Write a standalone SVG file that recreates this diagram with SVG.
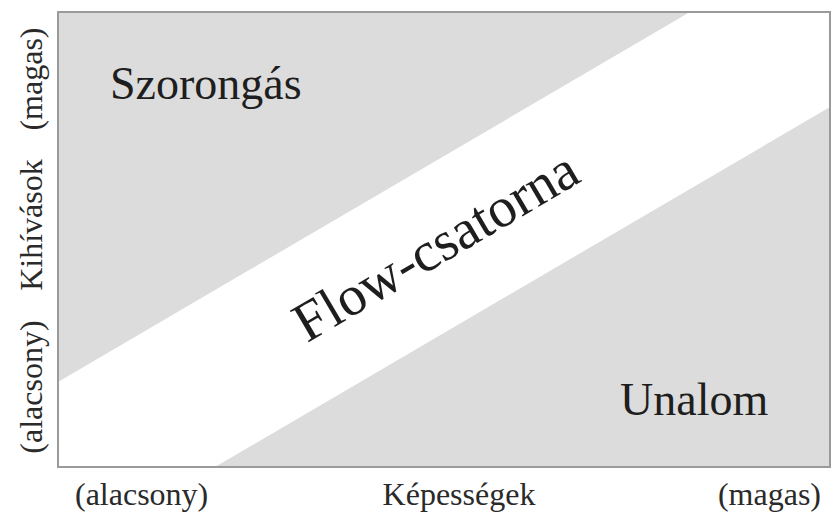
<svg xmlns="http://www.w3.org/2000/svg" width="833" height="520" viewBox="0 0 833 520">
  <style>
    text { font-family: "Liberation Serif", "Times New Roman", serif; fill: #1e1e1e; }
    .big { font-size: 46px; }
    .ax { font-size: 32px; fill: #2a2a2a; }
  </style>
  <rect width="833" height="520" fill="#ffffff"/>
  <g id="chart">
    <rect x="58" y="12" width="772" height="455" fill="#dcdcdc"/>
    <polygon id="flow-band" points="58,382 690,12 830,12 830,107 215,467 58,467" fill="#ffffff"/>
    <rect x="58" y="12" width="772" height="455" fill="none" stroke="#9a9a9a" stroke-width="2"/>
  </g>
  <g id="szorongas"><text class="big" x="110" y="99">Szorongás</text></g>
  <g id="unalom"><text class="big" x="620" y="415">Unalom</text></g>
  <g id="flow"><text font-size="56" text-anchor="middle" transform="translate(445,262) rotate(-30.5)">Flow-csatorna</text></g>
  <g id="y-axis">
    <text class="ax" text-anchor="middle" transform="translate(42,79) rotate(-90)">(magas)</text>
    <text class="ax" text-anchor="middle" transform="translate(42,225) rotate(-90)">Kihívások</text>
    <text class="ax" text-anchor="middle" transform="translate(42,387) rotate(-90)">(alacsony)</text>
  </g>
  <g id="x-axis">
    <text class="ax" x="75" y="505">(alacsony)</text>
    <text class="ax" x="459" y="505" text-anchor="middle">Képességek</text>
    <text class="ax" x="821" y="505" text-anchor="end">(magas)</text>
  </g>
</svg>
